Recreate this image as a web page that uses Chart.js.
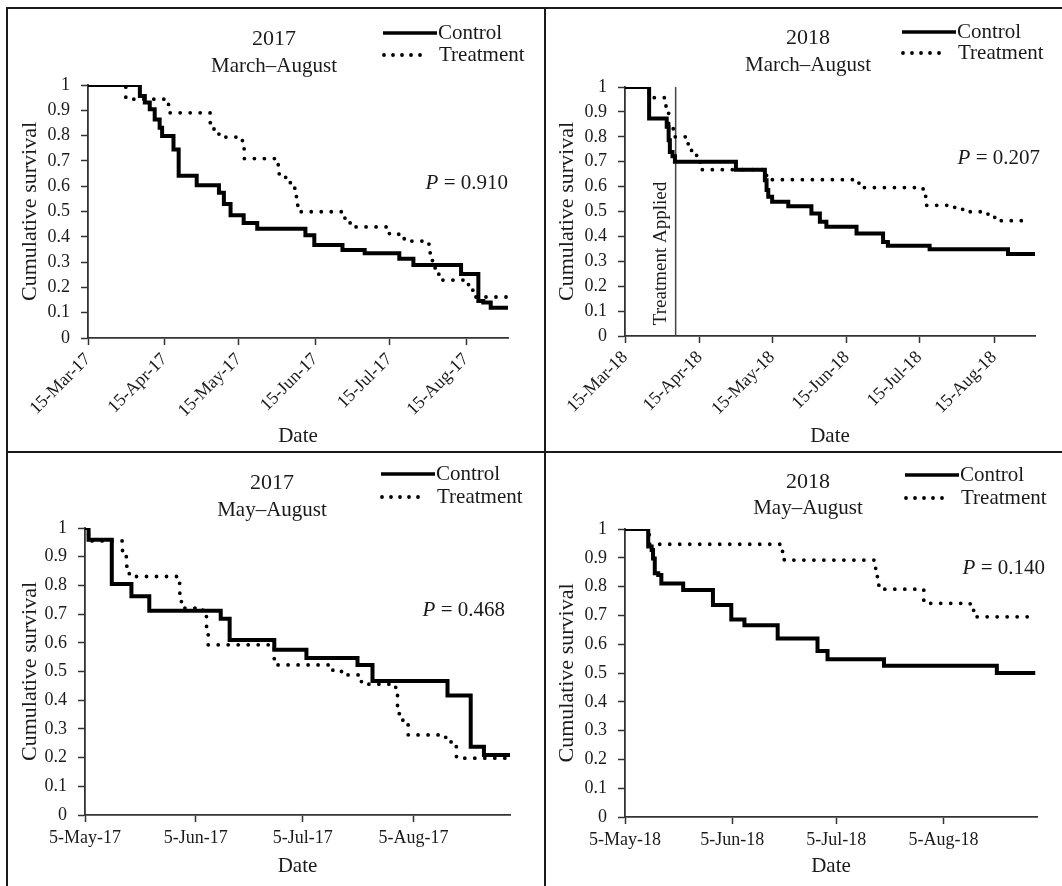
<!DOCTYPE html>
<html>
<head>
<meta charset="utf-8">
<script src="https://cdn.jsdelivr.net/npm/chart.js@4.4.1/dist/chart.umd.min.js"></script>
<style>
html, body { margin: 0; padding: 0; background: #fff; }
#wrap { position: relative; width: 1062px; height: 886px; overflow: hidden; background: #fff; }
.cell { position: absolute; }
.rule { position: absolute; background: #1a1a1a; }
</style>
</head>
<body>
<div id="wrap">
  <div class="rule" style="left:6px;top:7px;width:1056px;height:2px"></div>
  <div class="rule" style="left:6px;top:7px;width:2px;height:879px"></div>
  <div class="rule" style="left:544px;top:7px;width:2px;height:879px"></div>
  <div class="rule" style="left:6px;top:451px;width:1056px;height:2px"></div>
  <div class="cell" style="left:9px;top:10px;width:535px;height:441px"><canvas id="c1"></canvas></div>
  <div class="cell" style="left:546px;top:10px;width:516px;height:441px"><canvas id="c2"></canvas></div>
  <div class="cell" style="left:9px;top:453px;width:535px;height:433px"><canvas id="c3"></canvas></div>
  <div class="cell" style="left:546px;top:453px;width:516px;height:433px"><canvas id="c4"></canvas></div>
</div>
<script>
const ink = '#1a1a1a';
const axisInk = '#333';
const serif = "'Liberation Serif', 'Times New Roman', serif";

const seriesNames = ['Control', 'Treatment'];

// x axis: days since 15-Mar (top row) or 5-May (bottom row)
const marTicks = [0, 31, 61, 92, 122, 153];
const marLabels17 = ['15-Mar-17', '15-Apr-17', '15-May-17', '15-Jun-17', '15-Jul-17', '15-Aug-17'];
const marLabels18 = ['15-Mar-18', '15-Apr-18', '15-May-18', '15-Jun-18', '15-Jul-18', '15-Aug-18'];
const mayTicks = [0, 31, 61, 92];
const mayLabels17 = ['5-May-17', '5-Jun-17', '5-Jul-17', '5-Aug-17'];
const mayLabels18 = ['5-May-18', '5-Jun-18', '5-Jul-18', '5-Aug-18'];

// 2017 March-August
const p1CtrlDay  = [0, 21, 23, 25, 27, 29, 30, 34.6, 36.7, 44, 53, 55, 57.7, 63, 68.5, 88, 91.6, 103, 112, 126, 131.7, 151, 158, 160, 163, 170];
const p1CtrlSurv = [1, 0.957, 0.931, 0.904, 0.864, 0.831, 0.798, 0.745, 0.641, 0.604, 0.574, 0.53, 0.485, 0.455, 0.432, 0.406, 0.368, 0.348, 0.335, 0.313, 0.289, 0.253, 0.146, 0.14, 0.12, 0.12];
const p1TrtDay   = [0, 15.3, 32.6, 49.4, 51, 53, 62.5, 63.2, 77, 77.4, 80, 83, 84, 84.9, 86, 104, 106.5, 122, 128, 138, 138.5, 140.5, 142, 153.4, 154, 157, 170];
const p1TrtSurv  = [1, 0.944, 0.89, 0.851, 0.824, 0.794, 0.75, 0.709, 0.676, 0.638, 0.614, 0.592, 0.559, 0.519, 0.499, 0.455, 0.439, 0.41, 0.383, 0.343, 0.306, 0.266, 0.229, 0.213, 0.189, 0.162, 0.162];

// 2018 March-August
const p2CtrlDay  = [0, 10, 17.3, 18.1, 18.6, 19.7, 20.7, 46, 58, 58.7, 59.4, 61, 67.7, 77.3, 80.8, 83.5, 96, 107, 109, 126.3, 158.8, 170];
const p2CtrlSurv = [1, 0.873, 0.84, 0.786, 0.739, 0.722, 0.70, 0.668, 0.626, 0.586, 0.559, 0.539, 0.521, 0.492, 0.459, 0.439, 0.412, 0.378, 0.362, 0.348, 0.329, 0.329];
const p2TrtDay   = [0, 10, 17, 18.1, 20, 26.2, 27.6, 29.7, 31.1, 58.7, 97, 123.6, 124.7, 136.7, 140, 150.5, 153.3, 168];
const p2TrtSurv  = [1, 0.957, 0.913, 0.853, 0.80, 0.766, 0.733, 0.706, 0.668, 0.628, 0.596, 0.561, 0.525, 0.512, 0.499, 0.485, 0.463, 0.463];
const appliedDay = 21;
const appliedSpan = [0, 1];

// 2017 May-August
const p3CtrlDay  = [0, 1, 7.5, 13, 18, 38, 40.5, 53, 62, 76.3, 80.5, 101.5, 108, 111.7, 119];
const p3CtrlSurv = [1, 0.959, 0.805, 0.762, 0.712, 0.684, 0.61, 0.576, 0.547, 0.523, 0.467, 0.416, 0.238, 0.209, 0.209];
const p3TrtDay   = [0, 1, 10.5, 11.6, 12.4, 26.5, 27, 27.8, 33, 34, 34.5, 53, 69.4, 72.2, 76.8, 78.7, 87, 87.5, 88, 89, 90.5, 101, 102.5, 104, 119];
const p3TrtSurv  = [1, 0.955, 0.90, 0.867, 0.831, 0.773, 0.733, 0.721, 0.692, 0.657, 0.593, 0.523, 0.50, 0.488, 0.465, 0.456, 0.419, 0.378, 0.343, 0.314, 0.279, 0.256, 0.238, 0.198, 0.198];

// 2018 May-August
const p4CtrlDay  = [0, 6.7, 7.7, 8.1, 8.6, 9.6, 10.5, 16.8, 25.4, 30.7, 34.5, 44.1, 55.6, 58.5, 74.8, 107.4, 118.5];
const p4CtrlSurv = [1, 0.939, 0.927, 0.898, 0.846, 0.84, 0.811, 0.788, 0.736, 0.686, 0.666, 0.62, 0.576, 0.548, 0.525, 0.50, 0.50];
const p4TrtDay   = [0, 7, 45.5, 46, 72.4, 72.9, 73.5, 86.3, 99.7, 100.7, 117];
const p4TrtSurv  = [1, 0.947, 0.92, 0.892, 0.84, 0.805, 0.791, 0.742, 0.718, 0.695, 0.695];

const pValues = ['0.910', '0.207', '0.468', '0.140'];

function pts(days, surv) {
    return days.map((d, i) => ({ x: d, y: surv[i] }));
}

const panelText = {
    id: 'panelText',
    afterDraw(chart, args, o) {
        const ctx = chart.ctx;
        ctx.save();
        ctx.fillStyle = ink;
        ctx.textBaseline = 'middle';
        ctx.textAlign = 'center';
        ctx.font = '22px ' + serif;
        ctx.fillText(o.year, o.tx, o.ty);
        ctx.font = '21px ' + serif;
        ctx.fillText(o.months, o.tx, o.sy);

        // legend
        ctx.strokeStyle = '#000';
        ctx.lineWidth = 3.5;
        ctx.beginPath(); ctx.moveTo(o.lx, o.ly1); ctx.lineTo(o.lx + 54, o.ly1); ctx.stroke();
        ctx.setLineDash([0, 9]); ctx.lineCap = 'round'; ctx.lineWidth = 3.8;
        ctx.beginPath(); ctx.moveTo(o.lx + 1, o.ly2); ctx.lineTo(o.lx + 46, o.ly2); ctx.stroke();
        ctx.setLineDash([]); ctx.lineCap = 'butt';
        ctx.textAlign = 'left';
        ctx.fillText(seriesNames[0], o.lx + 55, o.ly1);
        ctx.fillText(seriesNames[1], o.lx + 56, o.ly2);

        // P value
        ctx.font = '21px ' + serif;
        const rest = ' = ' + o.p;
        const wr = ctx.measureText(rest).width;
        ctx.textAlign = 'right';
        ctx.fillText(rest, o.px, o.py);
        ctx.font = 'italic 21px ' + serif;
        ctx.fillText('P', o.px - wr, o.py);

        if (o.applied) {
            const x = chart.scales.x.getPixelForValue(appliedDay) - 15;
            const y = (chart.chartArea.top + chart.chartArea.bottom) / 2 + 42;
            ctx.translate(x, y);
            ctx.rotate(-Math.PI / 2);
            ctx.textAlign = 'center';
            ctx.font = '19px ' + serif;
            ctx.fillText('Treatment Applied', 0, 0);
        }
        ctx.restore();
    }
};

function makePanel(id, ctrl, trt, extra, ax, txt) {
    const datasets = [
        { label: seriesNames[0], data: ctrl, borderColor: '#000', borderWidth: 4, stepped: true, pointRadius: 0, fill: false, order: 1 },
        { label: seriesNames[1], data: trt, borderColor: '#000', borderWidth: 3.8, borderDash: [0, 10], borderCapStyle: 'round', stepped: true, pointRadius: 0, fill: false, order: 0 }
    ];
    if (extra) datasets.push({ label: 'applied', data: extra, borderColor: '#444', borderWidth: 1.5, pointRadius: 0, fill: false, order: 2 });
    return new Chart(document.getElementById(id), {
        type: 'line',
        data: { datasets },
        options: {
            responsive: true,
            maintainAspectRatio: false,
            animation: false,
            layout: { padding: { top: ax.top, right: ax.right, left: 0, bottom: 0 } },
            plugins: { legend: { display: false }, tooltip: { enabled: false }, panelText: txt },
            scales: {
                x: {
                    type: 'linear', min: 0, max: ax.xMax,
                    afterBuildTicks: s => { s.ticks = ax.tickDays.map(v => ({ value: v })); },
                    afterFit: s => { s.height = ax.xH; },
                    border: { color: axisInk, width: 1.8 },
                    grid: { drawOnChartArea: false, drawTicks: true, tickLength: 7, tickColor: axisInk, tickWidth: 1.5 },
                    ticks: { autoSkip: false, minRotation: ax.rot, maxRotation: ax.rot, padding: ax.xPad, color: ink, font: { size: 18, family: serif }, callback: (v, i) => ax.tickLabels[i] },
                    title: { display: true, text: 'Date', color: ink, font: { size: 21, family: serif }, padding: { top: 0, bottom: ax.datePad } }
                },
                y: {
                    min: 0, max: 1,
                    afterFit: s => { s.width = ax.yW; },
                    border: { color: axisInk, width: 1.8 },
                    grid: { drawOnChartArea: false, drawTicks: true, tickLength: 7, tickColor: axisInk, tickWidth: 1.5 },
                    ticks: { stepSize: 0.1, padding: 11, color: ink, font: { size: 18, family: serif }, callback: v => String(+v.toFixed(1)) },
                    title: { display: true, text: 'Cumulative survival', color: ink, font: { size: 22, family: serif }, padding: { top: 8, bottom: 0 } }
                }
            }
        },
        plugins: [panelText]
    });
}

makePanel('c1', pts(p1CtrlDay, p1CtrlSurv), pts(p1TrtDay, p1TrtSurv), null,
    { top: 75, right: 36, yW: 79, xH: 113, xMax: 170, tickDays: marTicks, tickLabels: marLabels17, rot: 45, xPad: 4, datePad: 1.5 },
    { year: '2017', months: 'March–August', tx: 265, ty: 29, sy: 56, lx: 374, ly1: 23, ly2: 45, p: pValues[0], px: 499, py: 173 });

makePanel('c2', pts(p2CtrlDay, p2CtrlSurv), pts(p2TrtDay, p2TrtSurv), appliedSpan.map(v => ({ x: appliedDay, y: v })),
    { top: 77, right: 27, yW: 79, xH: 115, xMax: 170, tickDays: marTicks, tickLabels: marLabels18, rot: 45, xPad: 4, datePad: 1.5 },
    { year: '2018', months: 'March–August', tx: 262, ty: 28, sy: 55, lx: 356, ly1: 22, ly2: 43, p: pValues[1], px: 494, py: 148, applied: true });

makePanel('c3', pts(p3CtrlDay, p3CtrlSurv), pts(p3TrtDay, p3TrtSurv), null,
    { top: 75, right: 34, yW: 76, xH: 71, xMax: 119, tickDays: mayTicks, tickLabels: mayLabels17, rot: 0, xPad: 5, datePad: 6.5 },
    { year: '2017', months: 'May–August', tx: 263, ty: 30, sy: 57, lx: 372, ly1: 21, ly2: 44, p: pValues[2], px: 496, py: 157 });

makePanel('c4', pts(p4CtrlDay, p4CtrlSurv), pts(p4TrtDay, p4TrtSurv), null,
    { top: 76, right: 25, yW: 79, xH: 69, xMax: 119, tickDays: mayTicks, tickLabels: mayLabels18, rot: 0, xPad: 5, datePad: 6.5 },
    { year: '2018', months: 'May–August', tx: 262, ty: 29, sy: 55, lx: 359, ly1: 22, ly2: 45, p: pValues[3], px: 499, py: 115 });
</script>
</body>
</html>
